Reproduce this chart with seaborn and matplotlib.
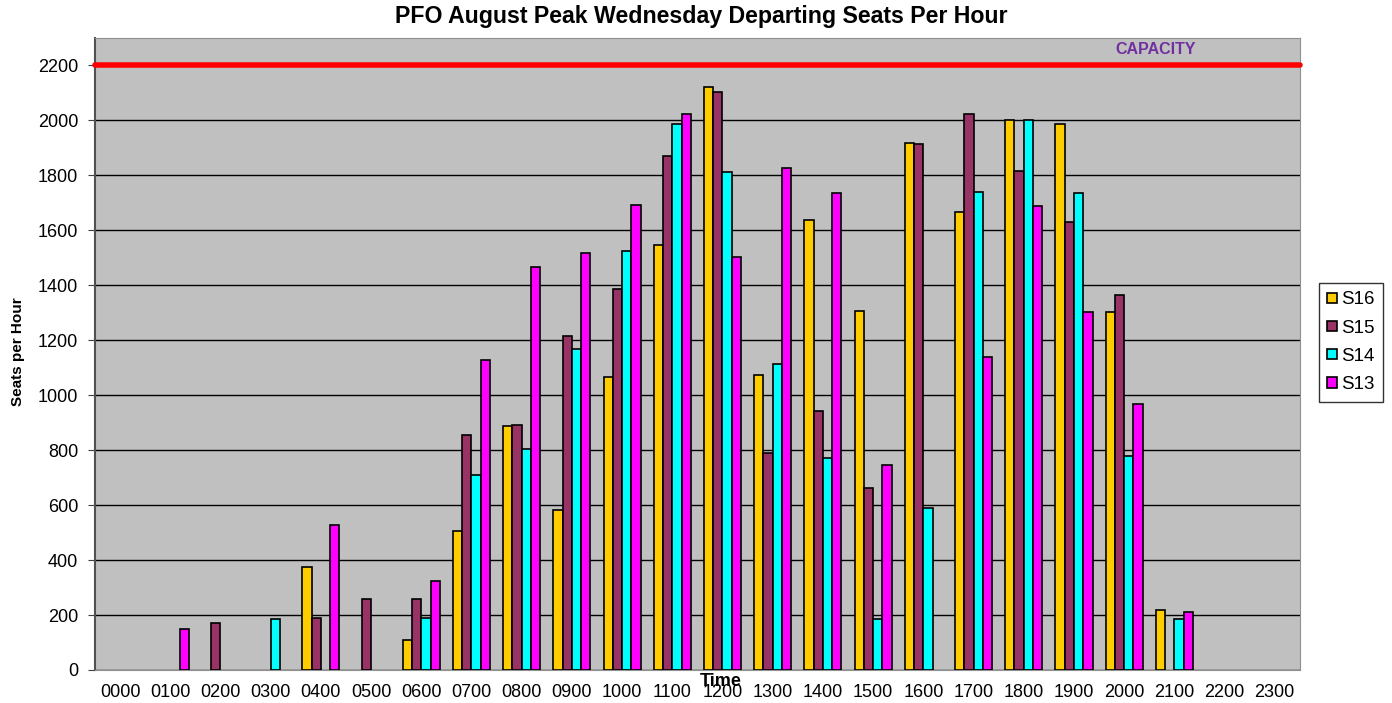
import pandas as pd
import matplotlib
matplotlib.use('Agg')
import matplotlib.pyplot as plt
import seaborn as sns

# values
hours = ['0000', '0100', '0200', '0300', '0400', '0500', '0600', '0700',
         '0800', '0900', '1000', '1100', '1200', '1300', '1400', '1500',
         '1600', '1700', '1800', '1900', '2000', '2100', '2200', '2300']
s16 = [0, 0, 0, 0, 376, 0, 110, 507, 887, 581, 1067, 1547,
       2122, 1074, 1637, 1305, 1919, 1665, 2002, 1987, 1302, 218, 0, 0]
s15 = [0, 0, 170, 0, 190, 259, 259, 856, 892, 1214, 1387, 1869,
       2103, 791, 944, 662, 1915, 2024, 1817, 1631, 1365, 0, 0, 0]
s14 = [0, 0, 0, 187, 0, 0, 188, 710, 804, 1168, 1526, 1987,
       1813, 1114, 770, 187, 590, 1738, 2000, 1736, 778, 187, 0, 0]
s13 = [0, 150, 0, 0, 528, 0, 325, 1128, 1465, 1517, 1691, 2024,
       1502, 1826, 1736, 745, 0, 1139, 1687, 1302, 968, 211, 0, 0]
series = ['S16', 'S15', 'S14', 'S13']
colors = ['#FFCC00', '#993366', '#00FFFF', '#FF00FF']
capacity = 2200

df = pd.DataFrame({'Time': hours, 'S16': s16, 'S15': s15, 'S14': s14, 'S13': s13})
long_df = df.melt(id_vars='Time', var_name='Series', value_name='Seats')

sns.set_style('white')
plt.rcParams['font.family'] = ['Liberation Sans', 'DejaVu Sans']
plt.rcParams['text.color'] = 'black'
plt.rcParams['xtick.color'] = 'black'
plt.rcParams['ytick.color'] = 'black'

fig = plt.figure(figsize=(13.92, 7.03), dpi=100)
ax = fig.add_axes([0.0682, 0.047, 0.8656, 0.899])
ax.set_facecolor('#C0C0C0')

sns.barplot(data=long_df, x='Time', y='Seats', hue='Series', hue_order=series,
            order=hours, palette=colors, width=0.74, gap=0, saturation=1,
            edgecolor='black', linewidth=1.2, ax=ax, zorder=3)

# empty hours draw nothing in the reference
for cont in ax.containers:
    for p in cont:
        if p.get_height() == 0:
            p.set_visible(False)

# capacity line
ax.axhline(capacity, color='#FF0000', linewidth=4, zorder=4, clip_on=False)
ax.text(20.62, capacity + 30, 'CAPACITY', color='#7030A0', fontsize=11.5,
        fontweight='bold', ha='center', va='bottom', zorder=5)

ax.set_ylim(0, 2300)
ax.set_xlim(-0.5, 23.5)
ax.set_yticks(range(0, 2201, 200))
ax.grid(axis='y', color='black', linewidth=1.0, zorder=0)
ax.set_axisbelow(True)

ax.tick_params(axis='x', which='major', length=0, labelsize=13, pad=10)
ax.set_xticks([i - 0.5 for i in range(25)], minor=True)
ax.tick_params(axis='x', which='minor', length=5, color='#404040')
ax.tick_params(axis='y', length=5, labelsize=13, pad=7, left=True, color='#404040')

for side in ['top', 'right', 'bottom']:
    ax.spines[side].set_color('#909090')
ax.spines['left'].set_color('#505050')
ax.spines['left'].set_linewidth(1.5)

ax.set_xlabel('')
ax.set_ylabel('')
fig.text(0.504, 0.977, 'PFO August Peak Wednesday Departing Seats Per Hour',
         ha='center', va='center', fontsize=16.7, fontweight='bold')
fig.text(0.013, 0.5, 'Seats per Hour', rotation=90, ha='center', va='center',
         fontsize=11, fontweight='bold')
fig.text(0.518, 0.03, 'Time', ha='center', va='center', fontsize=13,
         fontweight='bold')

handles, labels = ax.get_legend_handles_labels()
ax.legend(handles, labels, loc='upper left', bbox_to_anchor=(0.9476, 0.5975),
          bbox_transform=fig.transFigure, frameon=True, fancybox=False,
          edgecolor='black', fontsize=13.5, handlelength=0.5, handleheight=0.45,
          handletextpad=0.2, borderpad=0.45, labelspacing=0.6, borderaxespad=0)

fig.savefig('out.png', dpi=100)
